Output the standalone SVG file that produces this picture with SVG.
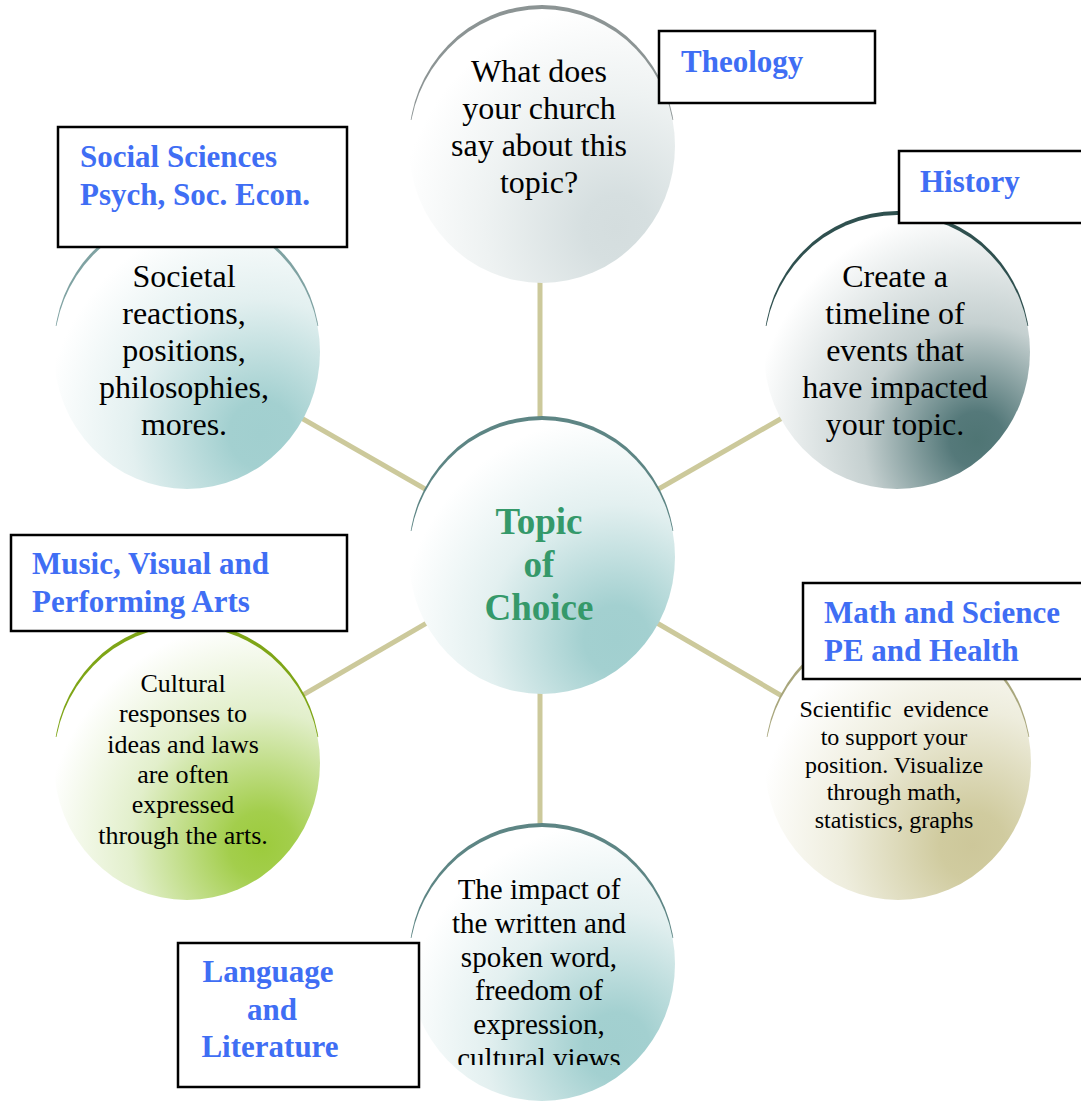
<svg xmlns="http://www.w3.org/2000/svg" width="1081" height="1101" viewBox="0 0 1081 1101">
<style>
.body{font-family:"Liberation Serif","Times New Roman",serif;fill:#000;text-anchor:middle}
.lbl{font-family:"Liberation Serif","Times New Roman",serif;font-weight:bold;font-size:31px;fill:#3F6EF4}
.box{fill:#fff;stroke:#000;stroke-width:2.5}
.conn{stroke:#CCC99B;stroke-width:5;fill:none}
.arc{clip-path:url(#topPart)}
</style>
<defs>
<clipPath id="topPart" clipPathUnits="objectBoundingBox"><rect x="0" y="0" width="1" height="0.42"/></clipPath>
<radialGradient id="gTeal" cx="0.78" cy="0.8" r="0.82">
<stop offset="0" stop-color="#A1CFCF"/><stop offset="0.15" stop-color="#A3D0D0"/><stop offset="0.6" stop-color="#E3F0F0"/><stop offset="1" stop-color="#FFFFFF"/>
</radialGradient>
<radialGradient id="gGrey" cx="0.78" cy="0.8" r="0.82">
<stop offset="0" stop-color="#D4DDDE"/><stop offset="0.15" stop-color="#D6DFE0"/><stop offset="0.6" stop-color="#EEF2F2"/><stop offset="1" stop-color="#FFFFFF"/>
</radialGradient>
<radialGradient id="gDark" cx="0.8" cy="0.82" r="0.85">
<stop offset="0" stop-color="#4F7574"/><stop offset="0.12" stop-color="#55797A"/><stop offset="0.5" stop-color="#C5D0D0"/><stop offset="1" stop-color="#FFFFFF"/>
</radialGradient>
<radialGradient id="gOlive" cx="0.78" cy="0.8" r="0.82">
<stop offset="0" stop-color="#CDC79A"/><stop offset="0.15" stop-color="#D0CB9F"/><stop offset="0.6" stop-color="#EEEDDD"/><stop offset="1" stop-color="#FFFFFF"/>
</radialGradient>
<radialGradient id="gGreen" cx="0.78" cy="0.8" r="0.82">
<stop offset="0" stop-color="#9CCB3C"/><stop offset="0.15" stop-color="#A3CE4C"/><stop offset="0.6" stop-color="#E2EFCB"/><stop offset="1" stop-color="#FFFFFF"/>
</radialGradient>
<clipPath id="clipBottom"><rect x="0" y="0" width="1081" height="1065"/></clipPath>
</defs>

<g id="connectors">
<line class="conn" x1="540" y1="556" x2="540" y2="146"/>
<line class="conn" x1="540" y1="556" x2="540" y2="964"/>
<line class="conn" x1="542" y1="556" x2="897" y2="352"/>
<line class="conn" x1="542" y1="556" x2="897" y2="763"/>
<line class="conn" x1="542" y1="556" x2="186" y2="352"/>
<line class="conn" x1="542" y1="556" x2="186" y2="763"/>
</g>

<g id="node-center">
<ellipse class="arc" cx="542" cy="553" rx="133" ry="137" fill="#5D8584"/>
<ellipse cx="542" cy="557" rx="133" ry="137" fill="url(#gTeal)"/>
<text style="font-family:'Liberation Serif','Times New Roman',serif;font-weight:bold;font-size:37px;fill:#35996A;text-anchor:middle">
<tspan x="539" y="534">Topic</tspan><tspan x="539" y="577">of</tspan><tspan x="539" y="620">Choice</tspan>
</text>
</g>

<g id="node-theology">
<ellipse class="arc" cx="542" cy="142" rx="133" ry="137" fill="#8C9494"/>
<ellipse cx="542" cy="146" rx="133" ry="137" fill="url(#gGrey)"/>
<text class="body" style="font-size:32px">
<tspan x="539" y="82">What does</tspan><tspan x="539" y="119">your church</tspan><tspan x="539" y="156">say about this</tspan><tspan x="539" y="193">topic?</tspan>
</text>
</g>

<g id="node-history">
<ellipse class="arc" cx="897" cy="348" rx="133" ry="137" fill="#2F504F"/>
<ellipse cx="897" cy="352" rx="133" ry="137" fill="url(#gDark)"/>
<text class="body" style="font-size:32px">
<tspan x="895" y="287">Create a</tspan><tspan x="895" y="324">timeline of</tspan><tspan x="895" y="361">events that</tspan><tspan x="895" y="398">have impacted</tspan><tspan x="895" y="435">your topic.</tspan>
</text>
</g>

<g id="node-social">
<ellipse class="arc" cx="187" cy="348" rx="133" ry="137" fill="#7FA2A2"/>
<ellipse cx="187" cy="352" rx="133" ry="137" fill="url(#gTeal)"/>
<text class="body" style="font-size:32px">
<tspan x="184" y="287">Societal</tspan><tspan x="184" y="324">reactions,</tspan><tspan x="184" y="361">positions,</tspan><tspan x="184" y="398">philosophies,</tspan><tspan x="184" y="435">mores.</tspan>
</text>
</g>

<g id="node-math">
<ellipse class="arc" cx="898" cy="759" rx="133" ry="137" fill="#A8A67C"/>
<ellipse cx="898" cy="763" rx="133" ry="137" fill="url(#gOlive)"/>
<text class="body" style="font-size:24px">
<tspan x="894" y="717">Scientific&#160; evidence</tspan><tspan x="894" y="745">to support your</tspan><tspan x="894" y="773">position. Visualize</tspan><tspan x="894" y="800">through math,</tspan><tspan x="894" y="828">statistics, graphs</tspan>
</text>
</g>

<g id="node-music">
<ellipse class="arc" cx="187" cy="759" rx="133" ry="137" fill="#7EA516"/>
<ellipse cx="187" cy="763" rx="133" ry="137" fill="url(#gGreen)"/>
<text class="body" style="font-size:26px">
<tspan x="183" y="692">Cultural</tspan><tspan x="183" y="722">responses to</tspan><tspan x="183" y="753">ideas and laws</tspan><tspan x="183" y="783">are often</tspan><tspan x="183" y="813">expressed</tspan><tspan x="183" y="844">through the arts.</tspan>
</text>
</g>

<g id="node-language">
<ellipse class="arc" cx="542" cy="960" rx="133" ry="137" fill="#5D8584"/>
<ellipse cx="542" cy="964" rx="133" ry="137" fill="url(#gTeal)"/>
<text class="body" style="font-size:29px" clip-path="url(#clipBottom)">
<tspan x="539" y="899">The impact of</tspan><tspan x="539" y="933">the written and</tspan><tspan x="539" y="967">spoken word,</tspan><tspan x="539" y="1000">freedom of</tspan><tspan x="539" y="1034">expression,</tspan><tspan x="539" y="1068">cultural views</tspan>
</text>
</g>

<g id="label-theology">
<rect class="box" x="659" y="31" width="216" height="72"/>
<text class="lbl" x="681" y="72">Theology</text>
</g>
<g id="label-history">
<rect class="box" x="899" y="151" width="200" height="72"/>
<text class="lbl" x="920" y="192">History</text>
</g>
<g id="label-social">
<rect class="box" x="58" y="127" width="289" height="120"/>
<text class="lbl"><tspan x="80" y="167">Social Sciences</tspan><tspan x="80" y="205">Psych, Soc. Econ.</tspan></text>
</g>
<g id="label-math">
<rect class="box" x="803" y="583" width="290" height="96"/>
<text class="lbl"><tspan x="824" y="623">Math and Science</tspan><tspan x="824" y="661">PE and Health</tspan></text>
</g>
<g id="label-music">
<rect class="box" x="11" y="535" width="336" height="96"/>
<text class="lbl"><tspan x="32" y="574">Music, Visual and</tspan><tspan x="32" y="612">Performing Arts</tspan></text>
</g>
<g id="label-language">
<rect class="box" x="178" y="943" width="241" height="144"/>
<text class="lbl" style="text-anchor:middle"><tspan x="268" y="982">Language</tspan><tspan x="272" y="1020">and</tspan><tspan x="270" y="1057">Literature</tspan></text>
</g>
</svg>
